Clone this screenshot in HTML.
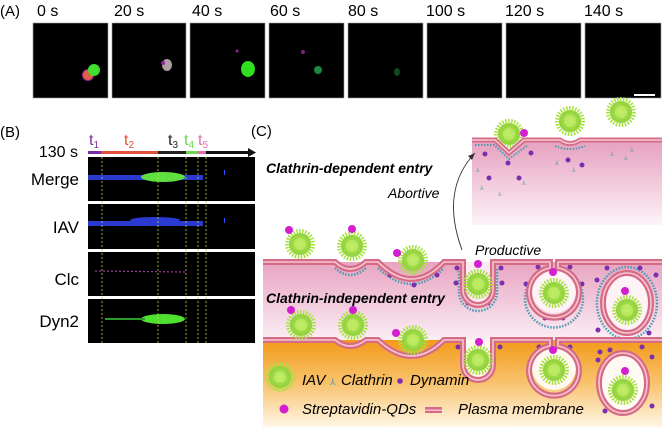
<!DOCTYPE html>
<html><head><meta charset="utf-8"><style>
html,body{margin:0;padding:0;background:#fff;}
svg{display:block;}
text{font-family:"Liberation Sans",Arial,sans-serif;}
</style></head><body>
<svg width="662" height="427" viewBox="0 0 662 427" xmlns="http://www.w3.org/2000/svg">
<defs>
<linearGradient id="pk" x1="0" y1="0" x2="0" y2="1"><stop offset="0" stop-color="#e8a3c1"/><stop offset="1" stop-color="#fbeef5"/></linearGradient>
<linearGradient id="pk2" x1="0" y1="0" x2="0" y2="1"><stop offset="0" stop-color="#e6a0bf"/><stop offset="1" stop-color="#fdf3f8"/></linearGradient>
<linearGradient id="or" x1="0" y1="0" x2="0" y2="1"><stop offset="0" stop-color="#f39a1a"/><stop offset="0.5" stop-color="#f8c36e"/><stop offset="1" stop-color="#fff6e6"/></linearGradient>
<radialGradient id="vg"><stop offset="0" stop-color="#b6e85a"/><stop offset="1" stop-color="#8fd13a"/></radialGradient>
<g id="v"><circle r="13" fill="none" stroke="#a6e23c" stroke-width="4" stroke-dasharray="1.5 1.5"/><circle r="11" fill="url(#vg)"/><circle r="6" fill="#c8f070" opacity=".6"/></g>
</defs>

<!-- Panel A -->
<text x="0" y="16" font-size="15">(A)</text>
<g font-size="16">
<text x="37" y="16">0 s</text><text x="114" y="16">20 s</text><text x="192" y="16">40 s</text><text x="270" y="16">60 s</text>
<text x="348" y="16">80 s</text><text x="426" y="16">100 s</text><text x="505" y="16">120 s</text><text x="584" y="16">140 s</text>
</g>
<g fill="#000" stroke="#999" stroke-width="0.6">
<rect x="33" y="23" width="75" height="75"/><rect x="112" y="23" width="74" height="75"/><rect x="190" y="23" width="75" height="75"/><rect x="269" y="23" width="75" height="75"/>
<rect x="348" y="23" width="75" height="75"/><rect x="427" y="23" width="75" height="75"/><rect x="506" y="23" width="75" height="75"/><rect x="585" y="23" width="76" height="75"/>
</g>
<ellipse cx="88" cy="75" rx="6" ry="6" fill="#a020a0"/><ellipse cx="88" cy="75" rx="5" ry="5" fill="#e06040"/><ellipse cx="94" cy="70" rx="6" ry="6" fill="#40e030"/>
<ellipse cx="167" cy="65" rx="5" ry="6" fill="#b0a0a0"/><circle cx="163" cy="63" r="2" fill="#9020a0"/>
<ellipse cx="248" cy="69" rx="7" ry="8" fill="#30e020"/><circle cx="237" cy="51" r="1.5" fill="#902090"/>
<ellipse cx="318" cy="70" rx="4" ry="4" fill="#1a8a40"/><circle cx="303" cy="52" r="2" fill="#802080"/>
<ellipse cx="397" cy="72" rx="3" ry="4" fill="#0f4a20"/>
<rect x="634" y="94" width="21" height="2" fill="#fff"/>

<!-- Panel B -->
<text x="0" y="137" font-size="15">(B)</text>
<text x="89" y="145" font-size="16" fill="#7b2fa6">t<tspan font-size="10" dy="3">1</tspan></text>
<text x="124" y="145" font-size="16" fill="#e0503a">t<tspan font-size="10" dy="3">2</tspan></text>
<text x="168" y="145" font-size="16" fill="#222">t<tspan font-size="10" dy="3">3</tspan></text>
<text x="184" y="145" font-size="16" fill="#6ad84a">t<tspan font-size="10" dy="3">4</tspan></text>
<text x="198" y="145" font-size="16" fill="#e070b0">t<tspan font-size="10" dy="3">5</tspan></text>
<text x="78" y="157" font-size="16" text-anchor="end">130 s</text>
<rect x="88" y="151" width="13" height="3" fill="#7b2fa6"/><rect x="101" y="151" width="57" height="3" fill="#e0503a"/>
<rect x="158" y="151" width="28" height="3" fill="#222"/><rect x="186" y="151" width="12" height="3" fill="#6ad84a"/>
<rect x="198" y="151" width="8" height="3" fill="#e070b0"/><rect x="206" y="151" width="43" height="3" fill="#111"/>
<polygon points="248,148 256,152.5 248,157" fill="#111"/>
<g fill="#000"><rect x="88" y="157" width="167" height="44"/><rect x="88" y="204" width="167" height="45"/><rect x="88" y="252" width="167" height="44"/><rect x="88" y="299" width="167" height="44"/></g>
<rect x="88" y="175" width="115" height="5" fill="#2a3ad0"/><ellipse cx="163" cy="177" rx="22" ry="5" fill="#60e040"/>
<rect x="88" y="221" width="115" height="5" fill="#2a3ad0"/><ellipse cx="155" cy="220" rx="25" ry="3" fill="#2a3ad0"/>
<line x1="95" y1="271" x2="185" y2="272" stroke="#a03aa0" stroke-width="1.2" stroke-dasharray="2 2"/>
<ellipse cx="163" cy="319" rx="22" ry="5" fill="#50e030"/><line x1="105" y1="319" x2="145" y2="319" stroke="#2a9a2a" stroke-width="2"/>
<rect x="224" y="170" width="1" height="5" fill="#3050ff"/><rect x="224" y="218" width="1" height="5" fill="#3050ff"/>
<g stroke="#c8d83a" stroke-width="0.8" stroke-dasharray="2 2">
<line x1="102" y1="157" x2="102" y2="343"/><line x1="158" y1="157" x2="158" y2="343"/><line x1="186" y1="157" x2="186" y2="343"/><line x1="198" y1="157" x2="198" y2="343"/><line x1="206" y1="157" x2="206" y2="343"/>
</g>
<g font-size="17" text-anchor="end"><text x="79" y="185">Merge</text><text x="79" y="233">IAV</text><text x="79" y="285">Clc</text><text x="79" y="327">Dyn2</text></g>

<!-- Panel C -->
<text x="251" y="136" font-size="15">(C)</text>
<!-- inset -->
<path d="M472,140 H495 L509,153 L524,140 H560 Q570,147 580,140 H662 V225 H472 Z" fill="url(#pk2)"/>
<use href="#v" x="509" y="134"/><circle cx="524" cy="133" r="4" fill="#d41fd0"/>
<use href="#v" x="570" y="121"/><use href="#v" x="621" y="112"/>
<path d="M472,140 H495 L509,153 L524,140 H560 Q570,147 580,140 H662" fill="none" stroke="#d66b86" stroke-width="5"/>
<path d="M472,140 H495 L509,153 L524,140 H560 Q570,147 580,140 H662" fill="none" stroke="#f6c6d0" stroke-width="1.5"/>
<path d="M475,145 H494 L509,159 L528,145 M555,146 Q570,152 585,146" fill="none" stroke="#4a9ab0" stroke-width="2" stroke-dasharray="1.5 1.5"/>
<g fill="#7b2fb0"><circle cx="485" cy="154" r="2.5"/><circle cx="508" cy="163" r="2.5"/><circle cx="531" cy="153" r="2.5"/><circle cx="489" cy="178" r="2.5"/><circle cx="519" cy="178" r="2.5"/><circle cx="568" cy="160" r="2.5"/><circle cx="582" cy="165" r="2.5"/></g>
<g fill="#4a9ab0" font-size="6"><text x="476" y="172">⅄</text><text x="480" y="190">⅄</text><text x="498" y="196">⅄</text><text x="522" y="185">⅄</text><text x="555" y="165">⅄</text><text x="572" y="172">⅄</text><text x="610" y="156">⅄</text><text x="624" y="160">⅄</text><text x="630" y="152">⅄</text></g>
<path d="M462,250 Q440,190 475,153" fill="none" stroke="#333" stroke-width="0.9"/>
<polygon points="475,153 468,156 472,160" fill="#333"/>
<text x="266" y="173" font-size="14" font-weight="bold" font-style="italic">Clathrin-dependent entry</text>
<text x="388" y="198" font-size="14" font-style="italic">Abortive</text>
<text x="475" y="255" font-size="14" font-style="italic">Productive</text>

<!-- main pink band -->
<rect x="263" y="262" width="399" height="78" fill="url(#pk)"/>
<rect x="263" y="340" width="399" height="87" fill="url(#or)"/>
<!-- inner cavities -->
<path d="M466,262 V290 A12,12 0 0 0 490,290 V262 Z" fill="#fbeaf1"/>
<circle cx="554" cy="291" r="22" fill="#fdf2f6"/>
<ellipse cx="627" cy="303" rx="22" ry="28" fill="#fdf2f6"/>
<path d="M466,340 V365 A12,12 0 0 0 490,365 V340 Z" fill="#fff6ee"/>
<circle cx="554" cy="368" r="22" fill="#fff8f0"/>
<ellipse cx="623" cy="383" rx="22" ry="28" fill="#fffaf4"/>
<!-- clathrin coats -->
<g fill="none" stroke="#4a9ab0" stroke-width="2.5" stroke-dasharray="1.5 1.5">
<path d="M335,268 Q350,282 366,268"/><path d="M378,268 Q412,300 444,268"/>
<path d="M459,268 V292 A19,19 0 0 0 497,292 V268"/>
<path d="M537,275 A29,29 0 1 0 571,275"/>
<ellipse cx="627" cy="303" rx="30" ry="36"/>
</g>
<g fill="#7b2fb0">
<circle cx="390" cy="275" r="2.5"/><circle cx="414" cy="285" r="2.5"/><circle cx="437" cy="275" r="2.5"/>
<circle cx="457" cy="268" r="2.5"/><circle cx="501" cy="268" r="2.5"/><circle cx="456" cy="283" r="2.5"/><circle cx="502" cy="283" r="2.5"/><circle cx="468" cy="303" r="2.5"/><circle cx="488" cy="303" r="2.5"/>
<circle cx="538" cy="267" r="2.5"/><circle cx="570" cy="267" r="2.5"/><circle cx="526" cy="284" r="2.5"/><circle cx="582" cy="284" r="2.5"/><circle cx="545" cy="318" r="2.5"/><circle cx="563" cy="318" r="2.5"/>
<circle cx="597" cy="280" r="2.5"/><circle cx="607" cy="268" r="2.5"/><circle cx="640" cy="268" r="2.5"/><circle cx="656" cy="275" r="2.5"/><circle cx="598" cy="330" r="2.5"/><circle cx="649" cy="333" r="2.5"/>
<circle cx="458" cy="347" r="2.5"/><circle cx="500" cy="347" r="2.5"/><circle cx="539" cy="347" r="2.5"/><circle cx="570" cy="347" r="2.5"/>
<circle cx="600" cy="352" r="2.5"/><circle cx="610" cy="350" r="2.5"/><circle cx="598" cy="360" r="2.5"/><circle cx="642" cy="347" r="2.5"/><circle cx="652" cy="357" r="2.5"/><circle cx="652" cy="406" r="2.5"/><circle cx="605" cy="411" r="2.5"/>
</g>
<!-- membranes -->
<g fill="none" stroke="#d66b86" stroke-width="6">
<path d="M263,262 H335 Q350,276 366,262 H378 Q412,296 444,262 H463 V290 A15,15 0 0 0 493,290 V262 H550 V268 A25,25 0 1 0 558,268 V262 H662"/>
<ellipse cx="627" cy="303" rx="24" ry="30"/>
<path d="M263,340 H335 Q350,352 366,340 H378 Q412,372 444,340 H463 V365 A15,15 0 0 0 493,365 V340 H550 V346 A25,25 0 1 0 558,346 V340 H662"/>
<ellipse cx="623" cy="383" rx="24" ry="30"/>
</g>
<g fill="none" stroke="#f6c6d0" stroke-width="1.6">
<path d="M263,262 H335 Q350,276 366,262 H378 Q412,296 444,262 H463 V290 A15,15 0 0 0 493,290 V262 H550 V268 A25,25 0 1 0 558,268 V262 H662"/>
<ellipse cx="627" cy="303" rx="24" ry="30"/>
<path d="M263,340 H335 Q350,352 366,340 H378 Q412,372 444,340 H463 V365 A15,15 0 0 0 493,365 V340 H550 V346 A25,25 0 1 0 558,346 V340 H662"/>
<ellipse cx="623" cy="383" rx="24" ry="30"/>
</g>
<!-- viruses -->
<use href="#v" x="300" y="244"/><use href="#v" x="352" y="246"/><use href="#v" x="413" y="260"/>
<use href="#v" x="478" y="284"/><use href="#v" x="554" y="293"/><use href="#v" x="627" y="310"/>
<use href="#v" x="301" y="325"/><use href="#v" x="353" y="325"/><use href="#v" x="413" y="340"/>
<use href="#v" x="478" y="360"/><use href="#v" x="554" y="370"/><use href="#v" x="623" y="390"/>
<g fill="#d41fd0">
<circle cx="289" cy="230" r="4"/><circle cx="352" cy="229" r="4"/><circle cx="397" cy="253" r="4"/><circle cx="478" cy="264" r="4"/><circle cx="553" cy="272" r="4"/><circle cx="625" cy="291" r="4"/>
<circle cx="291" cy="310" r="4"/><circle cx="353" cy="310" r="4"/><circle cx="396" cy="333" r="4"/><circle cx="479" cy="342" r="4"/><circle cx="553" cy="350" r="4"/><circle cx="625" cy="371" r="4"/>
</g>
<text x="266" y="303" font-size="14" font-weight="bold" font-style="italic">Clathrin-independent entry</text>
<!-- legend -->
<use href="#v" x="280" y="377"/>
<text x="302" y="385" font-size="15" font-style="italic">IAV</text>
<text x="330" y="385" font-size="9" fill="#4a9ab0">⅄</text>
<text x="341" y="385" font-size="15" font-style="italic">Clathrin</text>
<circle cx="400" cy="381" r="2.8" fill="#7b2fb0"/>
<text x="410" y="385" font-size="15" font-style="italic">Dynamin</text>
<circle cx="284" cy="409" r="4.5" fill="#d41fd0"/>
<text x="302" y="414" font-size="15" font-style="italic">Streptavidin-QDs</text>
<rect x="425" y="407" width="17" height="6" fill="#d66b86"/><rect x="425" y="409.5" width="17" height="1.4" fill="#f6c6d0"/>
<text x="458" y="414" font-size="15" font-style="italic">Plasma membrane</text>
</svg>
</body></html>
